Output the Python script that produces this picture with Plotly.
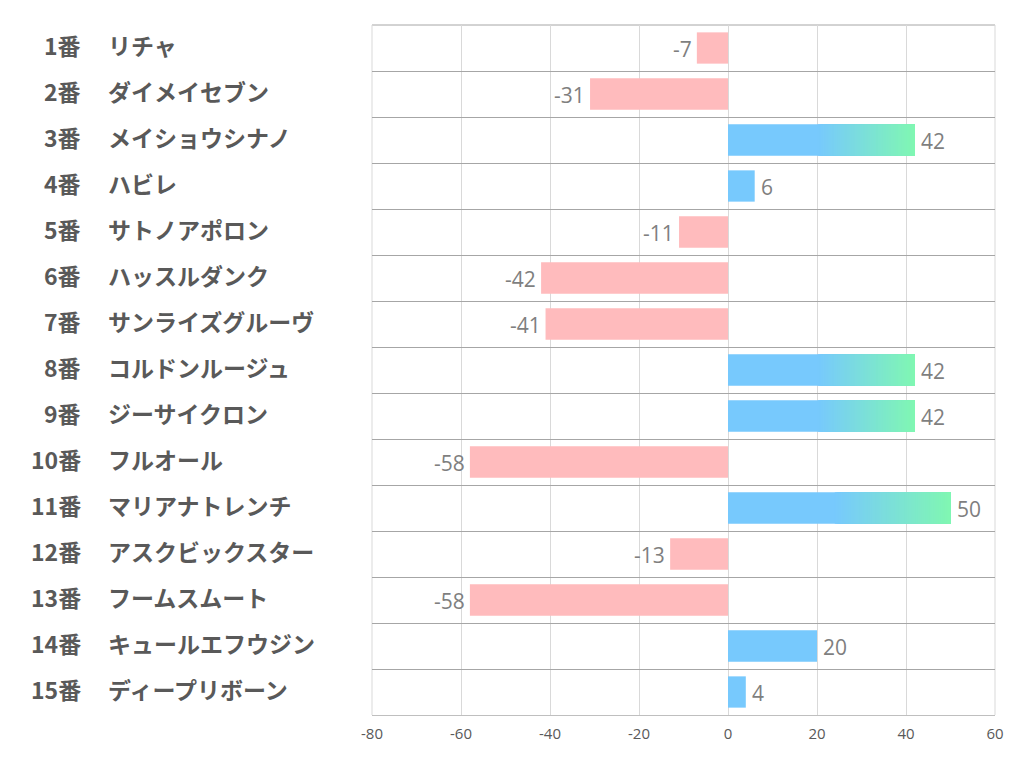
import plotly.graph_objects as go

numbers = ["1番", "2番", "3番", "4番", "5番", "6番", "7番", "8番", "9番", "10番",
           "11番", "12番", "13番", "14番", "15番"]
names = ["リチャ", "ダイメイセブン", "メイショウシナノ", "ハビレ", "サトノアポロン",
         "ハッスルダンク", "サンライズグルーヴ", "コルドンルージュ", "ジーサイクロン",
         "フルオール", "マリアナトレンチ", "アスクビックスター", "フームスムート",
         "キュールエフウジン", "ディープリボーン"]
values = [-7, -31, 42, 6, -11, -42, -41, 42, 42, -58, 50, -13, -58, 20, 4]
x_ticks = [-80, -60, -40, -20, 0, 20, 40, 60]

BLUE = (119, 201, 253)
GREEN = (128, 247, 178)
PINK = "#FFBBBD"

OFF = 8  # page body margin
W, H = 1022, 782
L, R, T, B = 372 - OFF, 1022 - 995 + OFF, 25 - OFF, 782 - 715 + OFF
pw = W - L - R

fig = go.Figure()
ys = list(range(len(values)))

def rgb(c):
    return "rgb(%d,%d,%d)" % c

neg_y = [i for i, v in enumerate(values) if v < 0]
fig.add_trace(go.Bar(y=neg_y, x=[values[i] for i in neg_y], orientation="h",
                     marker=dict(color=PINK, line=dict(width=0)), width=0.68,
                     showlegend=False, hoverinfo="skip"))

nseg = 60
for i, v in enumerate(values):
    if v <= 0:
        continue
    if v < 30:
        fig.add_trace(go.Bar(y=[i], x=[v], orientation="h",
                             marker=dict(color=rgb(BLUE), line=dict(width=0)),
                             width=0.68, showlegend=False, hoverinfo="skip"))
        continue
    start = 0.48 * v
    fig.add_trace(go.Bar(y=[i], x=[v], base=[0], orientation="h",
                         marker=dict(color=rgb(BLUE), line=dict(width=0)),
                         width=0.68, showlegend=False, hoverinfo="skip"))
    seg = (v - start) / nseg
    bases, lens, cols = [], [], []
    for k in range(nseg):
        t = (k + 0.5) / nseg
        c = tuple(int(round(BLUE[j] + (GREEN[j] - BLUE[j]) * t)) for j in range(3))
        b = start + k * seg
        bases.append(b)
        lens.append(v - b)
        cols.append(rgb(c))
    fig.add_trace(go.Bar(y=[i] * nseg, x=lens, base=bases, orientation="h",
                         marker=dict(color=cols, line=dict(width=0)),
                         width=0.68, showlegend=False, hoverinfo="skip"))

# value labels
lab_font = dict(family="Open Sans, Noto Sans", size=21, color="#7F7F7F")
for i, v in enumerate(values):
    fig.add_annotation(xref="x", yref="y", x=v, y=i, text=str(v), showarrow=False,
                       xanchor="left" if v > 0 else "right", yanchor="middle",
                       xshift=4 if v > 0 else -3, yshift=-1, font=lab_font)

cat_font = dict(family="Noto Sans CJK JP", size=23, color="#595959", weight="bold")
for i in ys:
    fig.add_annotation(xref="paper", yref="y", x=(83 - OFF - L) / pw, y=i, text=numbers[i],
                       xanchor="right", yanchor="middle", showarrow=False, font=cat_font,
                       yshift=3)
    fig.add_annotation(xref="paper", yref="y", x=(106 - OFF - L) / pw, y=i, text=names[i],
                       xanchor="left", yanchor="middle", showarrow=False, font=cat_font,
                       yshift=3)

# plot-area frame: top separator and side gridlines at the range edges
fig.add_shape(type="line", xref="paper", yref="paper", x0=0, x1=1, y0=1, y1=1,
              line=dict(color="#A6A6A6", width=1), layer="below")
for xv in (0, 1):
    fig.add_shape(type="line", xref="paper", yref="paper", x0=xv, x1=xv, y0=0, y1=1,
                  line=dict(color="#D9D9D9", width=1), layer="below")

fig.update_layout(
    width=W, height=H,
    margin=dict(l=L, r=R, t=T, b=B),
    plot_bgcolor="white", paper_bgcolor="white",
    barmode="overlay",
    xaxis=dict(range=[-80, 60], tickvals=x_ticks, ticktext=[str(v) for v in x_ticks],
               showgrid=True, gridcolor="#D9D9D9", gridwidth=1, zeroline=False,
               showline=True, linecolor="#BFBFBF", linewidth=1,
               tickfont=dict(family="Open Sans, Noto Sans", size=15, color="#595959"),
               ticks="", ticklabelstandoff=5, fixedrange=True),
    yaxis=dict(range=[len(values) - 0.5, -0.5], tickvals=[k - 0.5 for k in range(len(values) + 1)],
               showticklabels=False, showgrid=True, gridcolor="#A6A6A6", gridwidth=1,
               zeroline=False, showline=False, ticks="", fixedrange=True),
)

fig.write_html("out.html")
